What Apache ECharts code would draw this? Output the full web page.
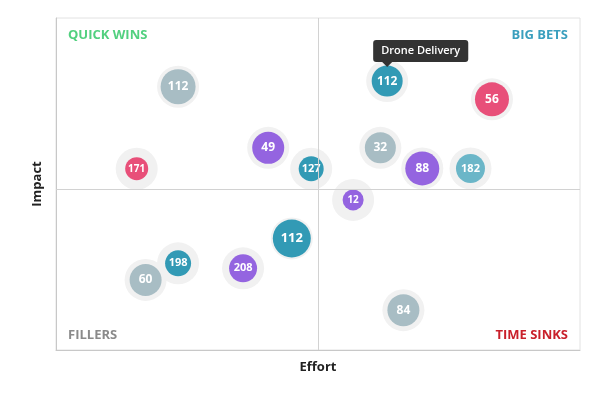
<!DOCTYPE html>
<html>
<head>
<meta charset="utf-8">
<title>Effort / Impact Matrix</title>
<script src="https://cdn.jsdelivr.net/npm/echarts@6/dist/echarts.min.js"></script>
<style>
  html, body { margin: 0; padding: 0; background: #fff; }
  #chart { width: 600px; height: 399px; }
</style>
</head>
<body>
<div id="chart"></div>
<script type="text/javascript">
// data (effort 0-100, impact 0-100)
var labels  = ['112', '171', '49', '127', '112', '56', '32', '88', '182', '12', '112', '198', '208', '60', '84'];
var effort  = [23.3, 15.4, 40.5, 48.7, 63.2, 83.2, 61.9, 69.9, 79.1, 56.7, 45.0, 23.3, 35.7, 17.1, 66.3];
var impact  = [79.3, 54.6, 60.9, 54.6, 81.0, 75.5, 60.9, 54.7, 54.7, 45.2, 33.6, 26.1, 24.6, 21.1, 12.0];
var sizes   = [35, 23, 32, 25, 31, 34, 31, 34, 29, 21, 38, 26, 28, 32, 32];
var groups  = ['gray', 'red', 'purple', 'teal', 'teal', 'red', 'gray', 'purple', 'lteal', 'purple', 'teal', 'teal', 'purple', 'gray', 'gray'];
var highlightIdx = 4;
var highlightName = 'Drone Delivery';
var midEffort = 50;
var midImpact = 48.5;

var palette = {
    gray: '#a8bdc4',
    red: '#e84f79',
    purple: '#9464e0',
    teal: '#329ab5',
    lteal: '#6bb6c8'
};

var font = '"Open Sans", "DejaVu Sans", sans-serif';
var myChart = echarts.init(document.getElementById('chart'));

var haloData = effort.map(function (x, i) { return [x, impact[i]]; });
var mainData = effort.map(function (x, i) {
    var fs = Math.round(10 + (sizes[i] - 21) / 17 * 3);
    return {
        value: [x, impact[i]],
        symbolSize: sizes[i],
        itemStyle: { color: palette[groups[i]], opacity: 1 },
        label: { formatter: labels[i], fontSize: fs }
    };
});

var option = {
    animation: false,
    textStyle: { fontFamily: font },
    grid: {
        left: 56, right: 20, top: 18, bottom: 49,
        show: true, borderColor: '#e2e2e2', borderWidth: 1
    },
    xAxis: {
        type: 'value', min: 0, max: 100,
        name: 'Effort', nameLocation: 'middle', nameGap: 11,
        nameTextStyle: { fontFamily: font, fontWeight: 'bold', fontSize: 13, color: '#222' },
        axisLine: { show: true, lineStyle: { color: '#c8c8c8' } },
        axisTick: { show: false }, axisLabel: { show: false }, splitLine: { show: false }
    },
    yAxis: {
        type: 'value', min: 0, max: 100,
        name: 'Impact', nameLocation: 'middle', nameGap: 12,
        nameTextStyle: { fontFamily: font, fontWeight: 'bold', fontSize: 13, color: '#222' },
        axisLine: { show: true, lineStyle: { color: '#c8c8c8' } },
        axisTick: { show: false }, axisLabel: { show: false }, splitLine: { show: false }
    },
    graphic: [
        { type: 'text', left: 68, top: 29, style: { text: 'QUICK WINS', fill: '#52d07f', font: 'bold 13px ' + font } },
        { type: 'text', right: 32, top: 29, style: { text: 'BIG BETS', fill: '#3a9fbe', font: 'bold 13px ' + font } },
        { type: 'text', left: 68, top: 329, style: { text: 'FILLERS', fill: '#8a8a8a', font: 'bold 13px ' + font } },
        { type: 'text', right: 32, top: 329, style: { text: 'TIME SINKS', fill: '#c9202b', font: 'bold 13px ' + font } }
    ],
    series: [
        {
            // light halo behind every bubble + quadrant dividers
            type: 'scatter',
            data: haloData,
            symbolSize: 42,
            itemStyle: { color: '#f1f1f1', opacity: 1 },
            silent: true,
            markLine: {
                silent: true,
                symbol: 'none',
                label: { show: false },
                lineStyle: { color: '#d2d2d2', width: 1, type: 'solid', opacity: 1 },
                data: [{ xAxis: midEffort }, { yAxis: midImpact }]
            }
        },
        {
            type: 'scatter',
            data: mainData,
            label: {
                show: true, position: 'inside',
                color: '#fff', fontWeight: 'bold', fontFamily: font
            },
            emphasis: { disabled: true }
        },
        {
            // tooltip-like callout over the highlighted item
            type: 'scatter',
            data: [[effort[highlightIdx], impact[highlightIdx]]],
            symbol: 'path://M0,0 L10,0 L5,5 Z',
            symbolSize: [10, 5],
            symbolOffset: [0, -16.5],
            itemStyle: { color: '#333', opacity: 1 },
            silent: true,
            label: {
                show: true, position: 'top', distance: 0, align: 'left', offset: [-14, 0],
                formatter: highlightName,
                backgroundColor: '#333', borderRadius: 3, padding: [4, 8],
                color: '#fff', fontSize: 11, lineHeight: 14, fontWeight: 600, fontFamily: font
            }
        }
    ]
};
myChart.setOption(option);
</script>
</body>
</html>
